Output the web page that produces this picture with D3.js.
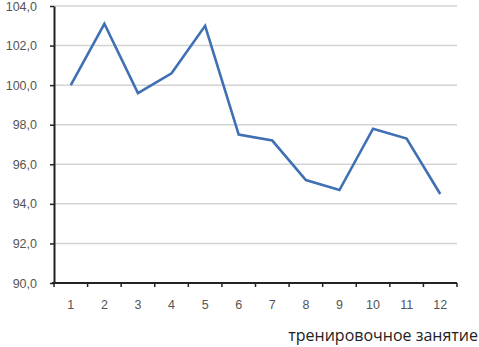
<!DOCTYPE html>
<html>
<head>
<meta charset="utf-8">
<script src="https://cdn.jsdelivr.net/npm/d3@7"></script>
<style>
  body { margin: 0; background: #fff; }
  svg { display: block; }
</style>
</head>
<body>
<div id="chart"></div>
<script>
const sessions = ["1", "2", "3", "4", "5", "6", "7", "8", "9", "10", "11", "12"];
const values = [100.0, 103.1, 99.6, 100.6, 103.0, 97.5, 97.2, 95.2, 94.7, 97.8, 97.3, 94.5];
const yTicks = [90, 92, 94, 96, 98, 100, 102, 104];
const xTitle = "тренировочное занятие";

const width = 479, height = 347;
const margin = { top: 6, right: 22, bottom: 64, left: 54 };

const svg = d3.select("#chart").append("svg")
  .attr("width", width)
  .attr("height", height);

const x = d3.scaleBand()
  .domain(sessions)
  .range([margin.left, width - margin.right]);

const y = d3.scaleLinear()
  .domain([90, 104])
  .range([height - margin.bottom, margin.top]);

const fmt = d => d.toFixed(1).replace(".", ",");

// gridlines
svg.append("g")
  .selectAll("line")
  .data(yTicks.filter(d => d > 90))
  .join("line")
  .attr("x1", margin.left)
  .attr("x2", width - margin.right)
  .attr("y1", d => y(d))
  .attr("y2", d => y(d))
  .attr("stroke", "#d4d4d4")
  .attr("stroke-width", 1.5);

// y axis
const yAxis = svg.append("g")
  .attr("transform", `translate(${margin.left},0)`)
  .call(d3.axisLeft(y).tickValues(yTicks).tickFormat(fmt).tickSize(4).tickSizeOuter(0));
yAxis.select(".domain").attr("stroke", "#222").attr("stroke-width", 2);
yAxis.selectAll(".tick line").attr("stroke", "#222").attr("stroke-width", 1.5);
yAxis.selectAll(".tick text")
  .attr("x", -17)
  .attr("fill", "#555")
  .attr("font-family", "Liberation Sans, Arial, sans-serif")
  .attr("font-size", 12.5);

// x axis with ticks between categories
const xAxisG = svg.append("g")
  .attr("transform", `translate(0,${height - margin.bottom})`);
xAxisG.append("line")
  .attr("x1", margin.left - 2)
  .attr("x2", width - margin.right)
  .attr("stroke", "#222")
  .attr("stroke-width", 2);
const bounds = sessions.map(s => x(s)).concat([x(sessions[sessions.length - 1]) + x.bandwidth()]);
xAxisG.selectAll(".xt")
  .data(bounds)
  .join("line")
  .attr("class", "xt")
  .attr("x1", d => d)
  .attr("x2", d => d)
  .attr("y1", 0)
  .attr("y2", 4)
  .attr("stroke", "#222")
  .attr("stroke-width", 1.5);
xAxisG.selectAll("text")
  .data(sessions)
  .join("text")
  .attr("x", d => x(d) + x.bandwidth() / 2)
  .attr("y", 26)
  .attr("text-anchor", "middle")
  .attr("fill", "#555")
  .attr("font-family", "Liberation Sans, Arial, sans-serif")
  .attr("font-size", 12.5)
  .text(d => d);

// line
const line = d3.line()
  .x((d, i) => x(sessions[i]) + x.bandwidth() / 2)
  .y(d => y(d));

svg.append("path")
  .datum(values)
  .attr("fill", "none")
  .attr("stroke", "#3f70b4")
  .attr("stroke-width", 2.6)
  .attr("stroke-linejoin", "miter")
  .attr("d", line);

// axis title
svg.append("text")
  .attr("x", width - 1)
  .attr("y", height - 6)
  .attr("text-anchor", "end")
  .attr("fill", "#222")
  .attr("font-family", "Open Sans, DejaVu Sans, sans-serif")
  .attr("font-size", 16)
  .text(xTitle);
</script>
</body>
</html>
